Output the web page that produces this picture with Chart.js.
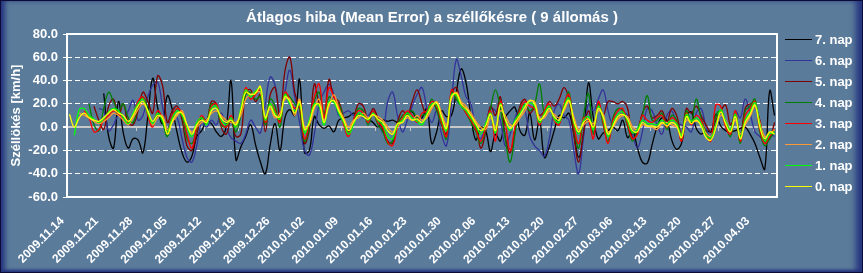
<!DOCTYPE html>
<html>
<head>
<meta charset="utf-8">
<script src="https://cdn.jsdelivr.net/npm/chart.js@4.4.1/dist/chart.umd.min.js"></script>
<style>
  html, body { margin: 0; padding: 0; background: #5b7b9b; }
  #wrap {
    position: relative; width: 863px; height: 273px; box-sizing: border-box;
    border: 1px solid #0b0b35; background: #5b7b9b;
    box-shadow: inset 6px 0 5px -2px #26357f, inset -8px 0 6px -2px #26357f, inset 0 -4px 3px -2px #26357f;
  }
  #chart { position: absolute; left: -1px; top: -1px; }
</style>
</head>
<body>
<div id="wrap"><canvas id="chart" width="863" height="273"></canvas></div>
<script>
// Data
const chartTitle = "Átlagos hiba (Mean Error) a széllőkésre ( 9 állomás )";
const yTitle = "Széllökés [km/h]";
const START_DATE = new Date(2009, 10, 14);
const DAY_COUNT = 145;

const weekLabels = [
  "2009.11.14", "2009.11.21", "2009.11.28", "2009.12.05", "2009.12.12", "2009.12.19", "2009.12.26",
  "2010.01.02", "2010.01.09", "2010.01.16", "2010.01.23", "2010.01.30", "2010.02.06", "2010.02.13",
  "2010.02.20", "2010.02.27", "2010.03.06", "2010.03.13", "2010.03.20", "2010.03.27", "2010.04.03"
];

const seriesNames = ["0. nap", "1. nap", "2. nap", "3. nap", "4. nap", "5. nap", "6. nap", "7. nap"];
const seriesColors = ["#ffff00", "#00ff00", "#ff9933", "#ff0000", "#008000", "#800000", "#333399", "#000000"];

const nap0 = [
  11, 0, 8, 12, 8, 6, 5, 8, 12, 15,
  12, 10, 5, 10, 18, 22, 14, 5, 10, 8,
  -6, 5, 12, 12, 2, -6, 2, 6, 4, 14,
  16, 8, 4, 6, 2, 14, 30, 28, 29, 35,
  8, 18, 10, 9, 26, 22, 12, 22, -2, 4,
  18, 20, 4, 20, 23, 14, 6, -3, 4, 10,
  9, 7, 11, 7, 4, -3, -6, 3, 4, 10,
  6, 7, 4, 10, 18, 21, 9, -1, 26, 29,
  20, 16, 10, 3, -3, 1, 11, -3, 19, 7,
  -1, 4, 10, 17, 23, 20, 6, 10, 16, 9,
  6, 16, 23, 6, -4, 4, 7, 0, 16, 9,
  -6, 1, 9, 11, 7, -3, -4, 4, 1, 1,
  0, 4, 1, 4, 1, -9, 9, 3, 6, 1,
  -9, -11, -1, 13, 3, -4, 9, -10, 4, 11,
  19, 0, -10, -4, -6
];
const nap1 = [
  null, -7, 15, 16, 10, 7, 4, 7, 13, 16,
  14, 8, 3, 12, 20, 24, 12, 3, 12, 6,
  -4, 8, 14, 10, 0, -8, 4, 8, 2, 16,
  18, 6, 2, 8, 0, 16, 32, 26, 31, 33,
  6, 20, 12, 7, 28, 20, 14, 20, -5, 6,
  20, 18, 2, 22, 21, 12, 4, -6, 2, 12,
  10, 6, 12, 6, 2, -8, -10, 2, 6, 12,
  8, 5, 2, 12, 20, 19, 7, -3, 28, 27,
  18, 14, 8, 1, -6, 3, 12, -5, 20, 6,
  -3, 6, 12, 19, 21, 18, 4, 12, 18, 7,
  4, 18, 25, 4, -6, 6, 9, -2, 18, 7,
  -8, 3, 11, 13, 5, -5, -2, 6, 3, 3,
  2, 6, 3, 6, 3, -7, 11, 5, 8, 3,
  -7, -9, 1, 15, 5, -2, 11, -8, 6, 13,
  21, 2, -12, -6, -4
];
const nap2 = [
  null, null, 12, 10, 8, 5, 3, 5, 8, 12,
  10, 6, 2, 8, 15, 20, 14, 2, 8, 10,
  -2, 4, 10, 14, 2, -4, 0, 4, 6, 12,
  14, 10, 6, 4, 4, 10, 24, 28, 30, 30,
  8, 16, 8, 12, 24, 24, 10, 24, 0, 2,
  16, 24, 6, 18, 28, 16, 8, 0, 6, 8,
  12, 8, 10, 9, 6, 0, -4, 0, 6, 8,
  6, 10, 6, 8, 16, 22, 12, 2, 24, 30,
  22, 18, 12, 5, 0, -2, 8, 0, 14, 10,
  2, 2, 8, 14, 22, 22, 8, 8, 14, 11,
  8, 14, 22, 9, -2, 2, 5, 3, 14, 11,
  -4, 0, 7, 10, 9, 0, -2, 2, 1, 0,
  -2, 3, 4, 2, 0, -6, 6, 5, 5, 3,
  -5, -8, 0, 10, 6, -2, 6, -6, 2, 9,
  18, 4, -8, -6, -2
];
const nap3 = [
  null, null, null, 14, 8, -4, -2, 6, 10, 14,
  12, 6, 4, 10, 22, 26, 10, 0, 14, 8,
  -4, 10, 16, 12, -6, -18, 0, 10, 4, 18,
  20, 4, 0, 10, 0, 14, 34, 24, 28, 32,
  4, 20, 14, 4, 30, 24, 16, 18, -10, 4,
  26, 37, 8, 34, 26, 18, 2, -8, 6, 14,
  12, 4, 14, 4, 0, -13, -16, 0, 8, 14,
  10, 4, 12, 14, 22, 18, 4, -8, 32, 26,
  20, 12, 6, -2, -12, 0, 14, -12, 22, 4,
  -20, 0, 14, 22, 18, 16, 2, 14, 20, 6,
  2, 20, 28, 2, -14, 8, 6, -10, 22, 4,
  -14, 6, 14, 16, 2, -10, -6, 10, 6, 4,
  8, 10, 0, 8, 4, -12, 12, 2, 10, 6,
  -6, -12, 19, 18, 0, -6, 14, -12, 10, 16,
  22, -2, -14, -8, -2
];
const nap4 = [
  null, null, null, null, 20, 2, -3, 16, 30, 22,
  14, 20, 8, 4, 18, 26, 16, 2, 10, 4,
  -8, 8, 16, 10, -10, -14, -2, 8, 6, 20,
  18, 2, 0, 6, -4, 10, 28, 30, 24, 26,
  2, 24, 18, 0, 28, 26, 20, 16, -12, 0,
  22, 30, 12, 26, 22, 20, 6, -6, 4, 16,
  14, 2, 12, 2, -4, -14, -12, 2, 10, 12,
  14, 8, 10, 12, 24, 14, 2, -10, 30, 24,
  18, 12, 4, -4, -14, -2, 16, 32, 16, -10,
  -30, -6, 16, 20, 14, 20, 37, 12, 18, 8,
  4, 18, 30, 0, -18, 10, 29, -6, 20, 2,
  -12, 8, 16, 14, 0, -12, -2, 10, 27, 6,
  6, 12, -2, 10, 6, -10, 14, 4, 24, 8,
  -4, -10, 10, 14, 2, -8, 12, -14, 14, 18,
  24, -4, -16, -10, -4
];
const nap5 = [
  null, null, null, null, null, 18, 6, -2, 18, 24,
  10, 20, 4, 2, 14, 30, 22, 12, 44, 36,
  4, 14, 18, 6, -16, -20, -6, 8, 4, 22,
  20, 0, -6, 6, -8, -6, 30, 32, 22, 28,
  -4, 28, 34, 6, 48, 60, 30, 16, -14, -2,
  37, 20, 8, 41, 26, 22, 8, -4, 6, 20,
  18, 6, 16, 8, -2, -12, -14, 4, 14, 10,
  22, 32, 20, 10, 20, 16, 2, -6, 28, 34,
  20, 16, 8, 2, -18, -4, 18, 10, 26, -8,
  -22, -2, 18, 24, 12, 16, 10, 14, 22, 18,
  24, 34, 24, -6, -30, -4, 14, 0, 20, 10,
  22, 22, 20, 22, 16, -10, -4, 12, 18, 8,
  10, 14, 4, 16, 10, -6, 16, 12, 18, 10,
  2, -4, 6, 14, 19, 2, 10, -8, 16, 20,
  18, 6, -12, -10, 4
];
const nap6 = [
  null, null, null, null, null, null, 16, 14, -3, 2,
  10, 8, 14, 23, 6, 10, 26, 36, 39, 18,
  -2, 10, 8, -10, -26, -30, -16, 4, 0, 6,
  2, 12, 0, -9, -12, -14, -6, 6, 0, -5,
  20, 43, 36, 12, 30, 49, 26, 4, -20, -24,
  -6, 20, 30, 37, 28, 10, 12, 14, 10, 12,
  8, 10, 14, 8, -4, 22, 30, 10, -4, 6,
  18, 28, 34, 16, 4, 14, -6, -16, 20, 58,
  44, 26, 20, -2, -10, 2, 16, 14, 6, -16,
  -6, 8, 16, 14, -8, -16, -20, -25, -10, 14,
  20, 10, 6, -20, -40, -8, 20, 14, 24, 32,
  14, 2, 8, 12, 10, -6, -18, -4, 16, 14,
  2, -6, 10, 14, 4, 2, 0, -4, 12, 16,
  0, -10, -2, 10, 4, -2, 14, 8, 24, 12,
  -4, -8, -12, -6, -8
];
const nap7 = [
  null, null, null, null, null, null, null, 29, -8, -18,
  22, -5, -18, -10, -11, -22, 9, 42, 17, 3,
  27, 15, -5, -22, -30, -25, -8, -3, 5, 3,
  -4, -8, 0, 40, -28, -17, -8, 2, -15, -30,
  -40, -15, 3, -20, 8, 15, 10, 41, -22, -20,
  9, 2, -1, 1, -4, 6, 8, 9, 12, 10,
  12, 7, 4, 0, 6, 5, 6, 4, 6, 12,
  13, 7, 8, 16, -14, -4, 14, 9, 10, 30,
  50, 38, 9, -11, 0, -3, -21, -6, -12, 8,
  14, 17, -3, -7, 12, -11, 6, -26, -17, -3,
  10, 8, 12, -6, -26, -6, 38, 8, -10, -5,
  -3, 0, -3, 6, -9, -3, -18, -30, -31, -15,
  0, 8, 6, -11, -19, -14, 10, 13, -1, -6,
  -3, -4, 11, 1, -3, -4, -3, -1, 0, -6,
  -14, -26, -36, 31, 10
];
const seriesData = [nap0, nap1, nap2, nap3, nap4, nap5, nap6, nap7];

const Y_MIN = -60;
const Y_MAX = 80;
const Y_STEP = 20;

// Daily categories
function dayLabel(i) {
  const d = new Date(START_DATE.getFullYear(), START_DATE.getMonth(), START_DATE.getDate() + i);
  const mm = String(d.getMonth() + 1).padStart(2, "0");
  const dd = String(d.getDate()).padStart(2, "0");
  return d.getFullYear() + "." + mm + "." + dd;
}
const days = [];
for (let i = 0; i < DAY_COUNT; i++) days.push(dayLabel(i));

const FONT = "'Liberation Sans', Arial, sans-serif";

// Frame, title, zero-line ticks and legend
const chartDecor = {
  id: "chartDecor",
  beforeDatasetsDraw(chart) {
    const { ctx, scales: { x, y } } = chart;
    const y0 = Math.round(y.getPixelForValue(0));
    const half = (x.getPixelForValue(1) - x.getPixelForValue(0)) / 2;
    ctx.save();
    ctx.strokeStyle = "#c8c8c8";
    ctx.lineWidth = 1;
    for (let i = 7; i < days.length; i += 7) {
      const px = Math.round(x.getPixelForValue(i) - half) + 0.5;
      ctx.beginPath();
      ctx.moveTo(px, y0);
      ctx.lineTo(px, y0 + 4);
      ctx.stroke();
    }
    ctx.restore();
  },
  afterDraw(chart) {
    const { ctx, chartArea: a } = chart;
    ctx.save();
    ctx.strokeStyle = "#ffffff";
    ctx.lineWidth = 2;
    ctx.strokeRect(a.left, a.top, a.right - a.left, a.bottom - a.top);

    ctx.fillStyle = "#ffffff";
    ctx.font = "bold 15px " + FONT;
    ctx.textAlign = "center";
    ctx.textBaseline = "middle";
    ctx.fillText(chartTitle, 432, 18);

    ctx.font = "bold 13px " + FONT;
    ctx.textAlign = "left";
    const order = chart.data.datasets.slice().reverse();
    order.forEach((ds, k) => {
      const ly = 39 + k * 21;
      ctx.strokeStyle = ds.borderColor;
      ctx.lineWidth = 1;
      ctx.beginPath();
      ctx.moveTo(785, ly + 0.5);
      ctx.lineTo(812, ly + 0.5);
      ctx.stroke();
      ctx.fillText(ds.label, 815, ly + 1);
    });
    ctx.restore();
  }
};

const ctx = document.getElementById("chart").getContext("2d");
new Chart(ctx, {
  type: "line",
  data: {
    labels: days,
    datasets: seriesNames.map((name, i) => ({
      label: name,
      data: seriesData[i],
      borderColor: seriesColors[i],
      backgroundColor: seriesColors[i],
      borderWidth: 1.3,
      pointRadius: 0,
      tension: 0.4,
      fill: false
    }))
  },
  options: {
    responsive: false,
    animation: false,
    devicePixelRatio: 1,
    layout: { padding: { left: 0, right: 86, top: 34, bottom: 0 } },
    plugins: {
      legend: { display: false },
      title: { display: false },
      tooltip: { enabled: false }
    },
    scales: {
      x: {
        offset: true,
        grid: { display: false },
        border: { display: false },
        ticks: {
          autoSkip: false,
          minRotation: 45,
          maxRotation: 45,
          padding: 9,
          labelOffset: -7,
          color: "#ffffff",
          font: { family: FONT, size: 12, weight: "bold" },
          callback: function (value, index) {
            return index % 7 === 0 ? weekLabels[index / 7] : "";
          }
        },
        afterFit: function (scale) { scale.height = 76; }
      },
      y: {
        min: Y_MIN,
        max: Y_MAX,
        ticks: {
          stepSize: Y_STEP,
          padding: 5,
          color: "#ffffff",
          font: { family: FONT, size: 13, weight: "bold" },
          callback: function (value) { return value.toFixed(1); }
        },
        grid: {
          color: function (c) {
            if (!c.tick) return "#ffffff";
            if (c.tick.value === 0) return "#c8c8c8";
            if (c.tick.value === Y_MAX || c.tick.value === Y_MIN) return "rgba(0,0,0,0)";
            return "#ffffff";
          },
          lineWidth: function (c) { return c.tick && c.tick.value === 0 ? 2 : 1; },
          tickColor: "#ffffff",
          tickLength: 4
        },
        border: {
          display: false,
          dash: function (c) { return c.tick && c.tick.value === 0 ? [] : [5, 3]; }
        },
        title: {
          display: true,
          text: yTitle,
          color: "#ffffff",
          padding: { top: 9, bottom: 0 },
          font: { family: FONT, size: 13, weight: "bold" }
        },
        afterFit: function (scale) { scale.width = 67; }
      }
    }
  },
  plugins: [chartDecor]
});
</script>
</body>
</html>
